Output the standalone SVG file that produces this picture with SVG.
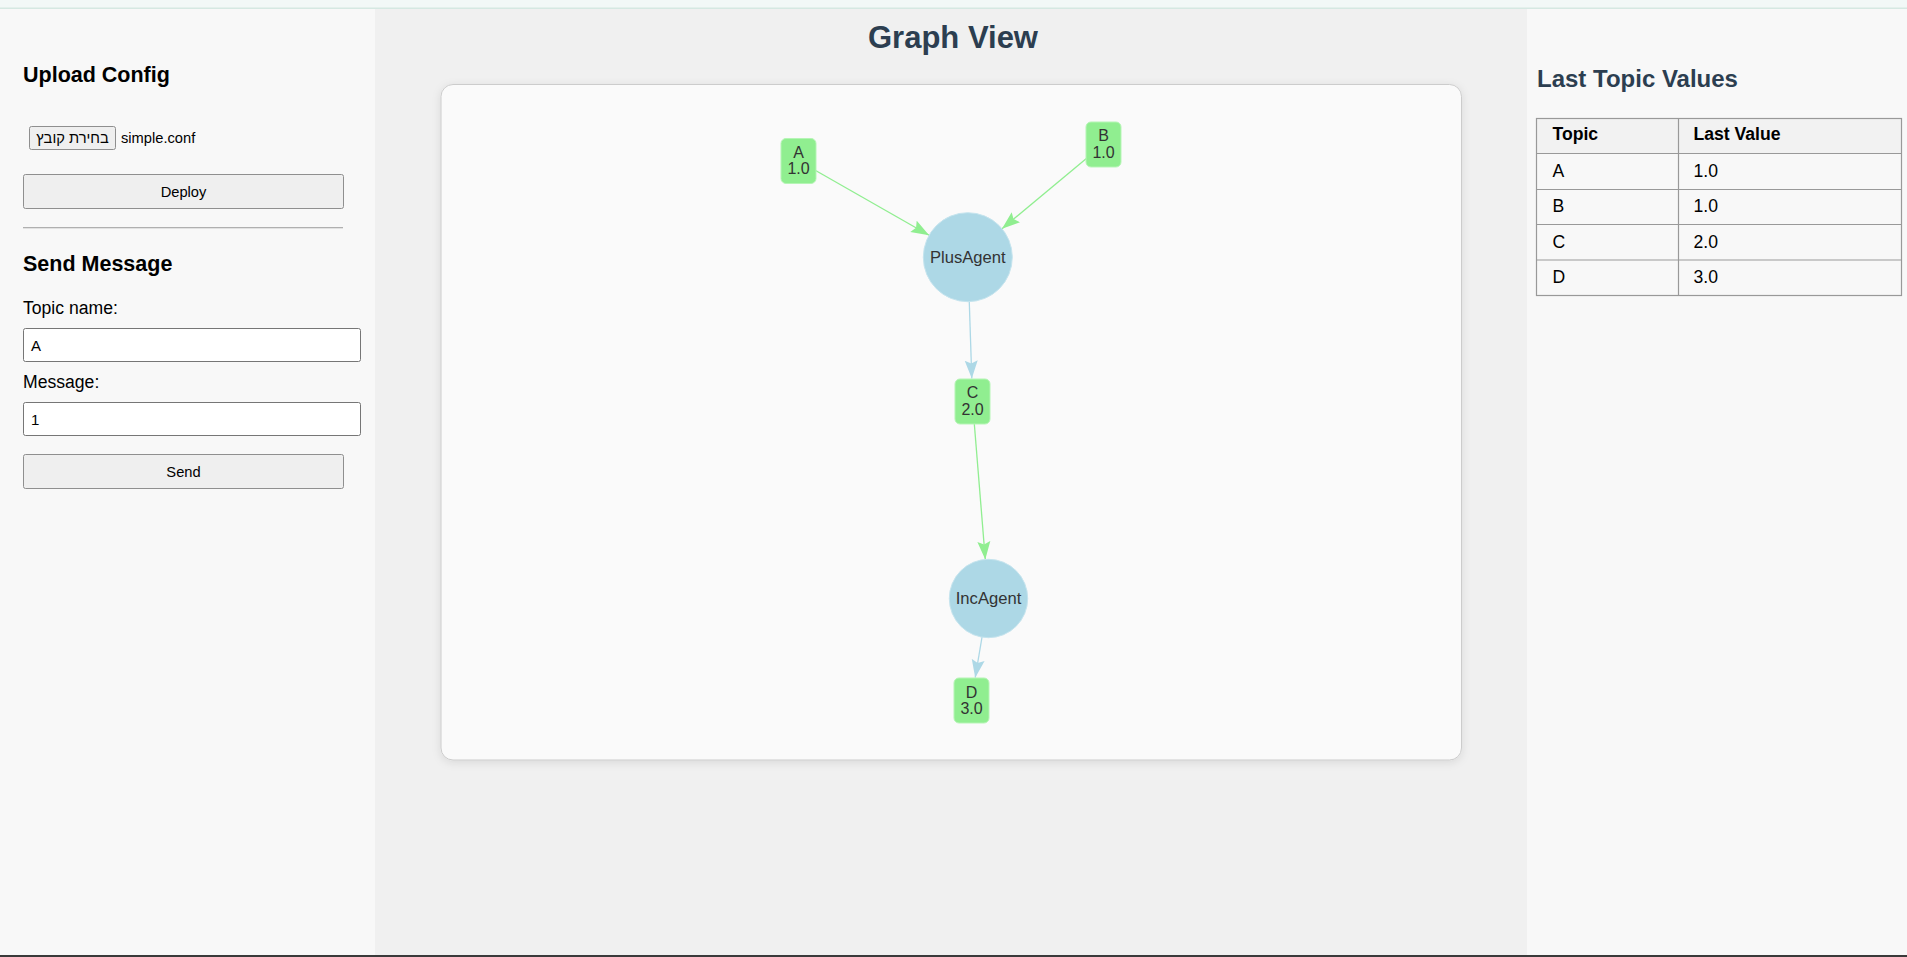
<svg xmlns="http://www.w3.org/2000/svg" width="1907" height="957" viewBox="0 0 1907 957">
<style>
text{font-family:"Liberation Sans",Arial,sans-serif}
.h{font-weight:bold;fill:#000;font-size:21.5px}
.lbl{font-size:17.6px;fill:#000}
.btn{fill:#efefef;stroke:#8f8f8f;stroke-width:1}
.btxt{font-size:14.7px;fill:#000;text-anchor:middle}
.inp{fill:#fff;stroke:#767676;stroke-width:1}
.topic rect{fill:#90ee90;stroke:#b5f5b5;stroke-width:1}
.agent circle{fill:#add8e6;stroke:#c5e4ee;stroke-width:1}
.nt{font-size:16px;fill:#333;text-anchor:middle}
.at{font-size:16.6px;fill:#333;text-anchor:middle}
.eg{stroke:#90ee90;stroke-width:1.3;fill:none}
.eb{stroke:#add8e6;stroke-width:1.3;fill:none}
.cell{fill:none;stroke:#999;stroke-width:1.2}
.tt{font-size:17.6px;fill:#000}
</style>
<defs>
<marker id="ag" markerUnits="userSpaceOnUse" markerWidth="20" markerHeight="14" refX="18" refY="7" orient="auto">
<path d="M0,0.5 L18,7 L0,13.5 L3,7 Z" fill="#90ee90"/>
</marker>
<marker id="ab" markerUnits="userSpaceOnUse" markerWidth="20" markerHeight="14" refX="18" refY="7" orient="auto">
<path d="M0,0.5 L18,7 L0,13.5 L3,7 Z" fill="#add8e6"/>
</marker>
<filter id="sh" x="-5%" y="-5%" width="110%" height="110%">
<feDropShadow dx="0" dy="2" stdDeviation="4" flood-color="#000" flood-opacity="0.1"/>
</filter>
</defs>
<!-- backgrounds -->
<rect x="0" y="0" width="1907" height="957" fill="#f0f0f0"/>
<rect x="0" y="0" width="1907" height="8" fill="#f2f8f7"/>
<rect x="0" y="7.5" width="1907" height="1.5" fill="#d5e8e2"/>
<rect x="0" y="9" width="375" height="946" fill="#f8f8f8"/>
<rect x="1527" y="9" width="380" height="946" fill="#f8f8f8"/>
<rect x="0" y="955" width="1907" height="2" fill="#3a3a3a"/>

<!-- left panel -->
<g id="upload-panel">
<text class="h" x="23" y="82">Upload Config</text>
<rect class="btn" x="29.5" y="126.5" width="86" height="23" rx="2"/>
<text class="btxt" x="72.5" y="143" direction="rtl">בחירת קובץ</text>
<text x="121" y="143" font-size="14.7" fill="#000">simple.conf</text>
<rect class="btn" x="23.5" y="174.5" width="320" height="34" rx="2"/>
<text class="btxt" x="183.5" y="197">Deploy</text>
<rect x="23" y="227" width="320" height="1.3" fill="#b0b0b0"/>
</g>
<g id="send-panel">
<text class="h" x="23" y="271">Send Message</text>
<text class="lbl" x="23" y="314">Topic name:</text>
<rect class="inp" x="23.5" y="328.5" width="337" height="33" rx="2"/>
<text x="31" y="351" font-size="15" fill="#000">A</text>
<text class="lbl" x="23" y="388">Message:</text>
<rect class="inp" x="23.5" y="402.5" width="337" height="33" rx="2"/>
<text x="31" y="425" font-size="15" fill="#000">1</text>
<rect class="btn" x="23.5" y="454.5" width="320" height="34" rx="2"/>
<text class="btxt" x="183.5" y="477">Send</text>
</g>

<!-- center -->
<text x="953" y="48" font-size="31" font-weight="bold" fill="#2c3e50" text-anchor="middle">Graph View</text>
<rect id="graph-card" x="441" y="84.5" width="1020.5" height="675.5" rx="12" fill="#fafafa" stroke="#cccccc" stroke-width="1" filter="url(#sh)"/>

<g id="connectors">
<line class="eg" x1="798.5" y1="160.7" x2="929.1" y2="235.2" marker-end="url(#ag)"/>
<line class="eg" x1="1103.5" y1="144.2" x2="1002" y2="228.7" marker-end="url(#ag)"/>
<line class="eb" x1="967.8" y1="257.2" x2="971.8" y2="378.5" marker-end="url(#ab)"/>
<line class="eg" x1="972.5" y1="401.5" x2="985.3" y2="559.4" marker-end="url(#ag)"/>
<line class="eb" x1="988.5" y1="598.5" x2="975.2" y2="677.7" marker-end="url(#ab)"/>
</g>

<g id="node-A" class="topic">
<rect x="781" y="138.5" width="35" height="45" rx="5"/>
<text class="nt" x="798.5" y="157.5">A</text>
<text class="nt" x="798.5" y="174">1.0</text>
</g>
<g id="node-B" class="topic">
<rect x="1086" y="122" width="35" height="45" rx="5"/>
<text class="nt" x="1103.5" y="140.5">B</text>
<text class="nt" x="1103.5" y="157.5">1.0</text>
</g>
<g id="node-PlusAgent" class="agent">
<circle cx="967.8" cy="257.2" r="44.5"/>
<text class="at" x="967.8" y="262.5">PlusAgent</text>
</g>
<g id="node-C" class="topic">
<rect x="955" y="379" width="35" height="45" rx="5"/>
<text class="nt" x="972.5" y="397.5">C</text>
<text class="nt" x="972.5" y="415">2.0</text>
</g>
<g id="node-IncAgent" class="agent">
<circle cx="988.5" cy="598.5" r="39.2"/>
<text class="at" x="988.5" y="604">IncAgent</text>
</g>
<g id="node-D" class="topic">
<rect x="954" y="678" width="35" height="45" rx="5"/>
<text class="nt" x="971.5" y="697.5">D</text>
<text class="nt" x="971.5" y="714">3.0</text>
</g>

<!-- right panel -->
<g id="last-values">
<text x="1537" y="86.5" font-size="24" font-weight="bold" fill="#2c3e50">Last Topic Values</text>
<rect x="1536.5" y="118.5" width="365" height="35" fill="#f2f2f2"/>
<rect class="cell" x="1536.5" y="118.5" width="365" height="177"/>
<line class="cell" x1="1678.5" y1="118.5" x2="1678.5" y2="295.5"/>
<line class="cell" x1="1536.5" y1="153.5" x2="1901.5" y2="153.5"/>
<line class="cell" x1="1536.5" y1="189.5" x2="1901.5" y2="189.5"/>
<line class="cell" x1="1536.5" y1="224.5" x2="1901.5" y2="224.5"/>
<line class="cell" x1="1536.5" y1="260" x2="1901.5" y2="260"/>
<text class="tt" x="1552.5" y="140" font-weight="bold">Topic</text>
<text class="tt" x="1693.5" y="140" font-weight="bold">Last Value</text>
<text class="tt" x="1552.5" y="177">A</text>
<text class="tt" x="1693.5" y="177">1.0</text>
<text class="tt" x="1552.5" y="212">B</text>
<text class="tt" x="1693.5" y="212">1.0</text>
<text class="tt" x="1552.5" y="247.5">C</text>
<text class="tt" x="1693.5" y="247.5">2.0</text>
<text class="tt" x="1552.5" y="283">D</text>
<text class="tt" x="1693.5" y="283">3.0</text>
</g>
</svg>
